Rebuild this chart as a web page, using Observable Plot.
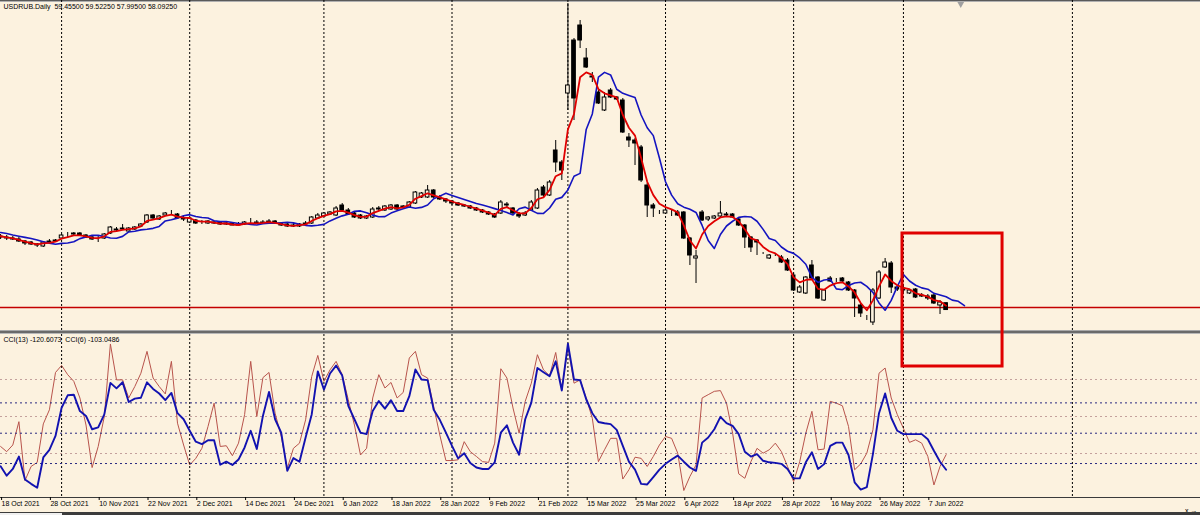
<!DOCTYPE html>
<html><head><meta charset="utf-8">
<script src="https://cdn.jsdelivr.net/npm/d3@7"></script>
<script src="https://cdn.jsdelivr.net/npm/@observablehq/plot@0.6"></script>
<style>
html,body{margin:0;padding:0;background:#fcf2df;}
#chart{position:relative;width:1200px;height:515px;overflow:hidden;background:#fcf2df;}
#chart .layer{position:absolute;left:0;}
#chart .sep{position:absolute;left:0;width:1200px;}
</style></head><body><div id="chart"></div>
<script>
const symbol = "USDRUB";
const period = "Daily";
const firstBar = -3;
const opens = [73.8,73.6,73.2,
72.8,72.6,72.4,72.2,71.8,71.6,71.2,70.8,71.8,71.8,
72.4,73.0,73.2,73.4,73.0,72.6,72.4,72.4,73.4,74.2,
74.2,73.8,74.2,74.8,75.6,77.0,76.2,77.0,77.4,77.2,
76.2,75.6,76.0,75.6,75.4,75.6,75.6,75.2,75.4,75.2,
75.2,75.6,75.6,75.4,75.6,75.8,75.4,75.2,75.0,74.8,
75.2,75.4,76.4,76.8,77.2,77.0,79.0,78.0,77.4,77.0,
76.4,76.6,78.2,78.0,78.2,79.0,78.6,78.6,79.4,80.6,
80.6,82.0,80.6,80.2,79.8,79.4,79.0,78.8,78.4,78.0,
77.6,77.2,77.4,79.2,78.4,77.2,77.0,78.0,78.4,82.6,
81.0,90.0,87.6,101.4,112.0,115.0,108.4,104.8,101.6,98.0,
102.0,100.6,100.0,92.6,92.0,90.6,83.0,79.0,77.6,77.4,
77.8,77.6,77.6,72.4,68.4,77.6,76.2,76.4,76.8,77.2,
77.2,76.2,75.0,72.6,72.0,69.4,68.4,69.0,68.6,68.0,
65.0,61.6,61.4,67.0,64.6,60.0,64.4,64.0,64.4,63.6,
62.0,59.0,56.6,55.6,60.4,66.6,67.4,62.6,62.4,61.4,
62.2,61.0,60.8,61.0,59.0,59.455];
const highs = [74.2,73.8,73.4,
73.2,73.0,72.8,72.6,72.0,71.8,71.4,71.8,72.2,72.2,
73.2,73.6,73.6,73.6,73.2,72.8,72.8,73.4,74.8,74.6,
75.2,74.6,74.8,75.4,77.2,77.2,77.0,77.6,78.0,77.4,
76.8,76.6,76.2,76.0,76.0,75.8,75.8,75.6,75.6,75.6,
75.8,76.4,76.0,76.0,76.2,76.0,75.6,75.6,75.4,75.4,
75.8,76.8,77.4,77.6,77.8,78.8,79.4,78.4,77.6,77.2,
77.0,78.6,78.8,79.0,79.2,79.2,79.0,79.8,81.8,81.6,
83.0,82.2,81.0,80.4,80.0,79.6,79.2,79.0,78.6,78.2,
77.8,77.4,80.0,79.6,78.6,77.6,77.8,80.0,82.4,83.0,
84.0,92.0,88.0,119.4,112.4,116.0,110.4,105.6,102.0,101.6,
102.4,100.8,100.4,93.4,92.4,91.0,83.4,79.4,78.0,78.2,
78.2,78.0,77.8,72.6,70.0,78.0,76.8,77.0,79.8,77.6,
77.4,76.4,75.2,72.8,72.2,69.6,69.2,69.4,69.0,68.4,
65.4,63.0,64.8,68.0,64.8,62.2,64.8,64.4,64.6,63.8,
62.2,59.4,57.0,62.4,66.0,68.4,67.8,63.0,62.8,62.2,
62.4,61.4,61.2,61.2,60.0,59.5225];
const lows = [73.4,73.0,72.6,
72.2,72.0,72.0,71.6,71.0,71.0,70.6,70.6,71.4,71.6,
72.2,72.6,73.0,72.8,72.4,72.0,71.6,72.2,73.2,73.8,
74.0,73.6,74.0,74.6,75.4,76.2,76.0,76.8,77.2,76.2,
75.8,75.4,75.2,75.2,75.2,75.2,75.0,75.0,75.0,74.8,
75.0,75.2,75.2,75.2,75.4,75.2,74.8,74.6,74.6,74.6,
75.0,75.2,76.2,76.6,77.0,76.8,77.8,77.0,76.4,76.2,
76.2,76.4,77.8,77.8,78.0,78.0,78.4,78.4,79.2,80.4,
80.4,80.4,80.0,79.4,79.0,78.8,78.6,78.2,77.8,77.4,
77.0,76.4,77.2,78.4,77.2,76.4,76.8,77.8,78.2,80.4,
80.8,85.6,84.0,98.0,96.0,110.4,106.4,103.6,99.2,97.8,
100.4,100.0,93.4,90.6,87.0,83.6,76.6,76.6,77.2,77.2,
76.8,76.8,72.2,67.0,63.4,75.8,75.8,76.2,76.6,76.8,
76.4,74.8,70.4,69.6,69.0,69.2,68.2,68.8,67.4,65.8,
61.8,61.4,61.2,64.2,60.2,59.8,63.6,63.6,63.6,61.8,
56.6,56.6,56.0,55.0,60.2,66.4,61.4,61.8,61.6,61.2,
60.4,60.6,60.0,59.2,57.2,57.995];
const closes = [73.6,73.2,72.8,
72.6,72.4,72.2,71.8,71.4,71.2,71.0,71.6,71.6,72.0,
73.0,73.0,73.4,73.0,72.6,72.2,72.4,73.2,74.6,74.0,
74.4,74.4,74.6,75.2,77.0,76.4,76.8,77.4,77.4,76.4,
76.4,76.4,75.4,75.6,75.8,75.4,75.2,75.4,75.0,75.0,
75.6,75.6,75.4,75.6,75.8,75.4,75.0,74.8,74.8,75.2,
75.4,76.6,77.0,77.4,77.6,78.4,78.0,77.2,76.6,76.4,
76.8,78.2,78.4,78.8,79.0,78.2,78.8,79.6,81.6,81.4,
82.0,80.6,80.2,79.8,79.4,79.0,78.8,78.4,78.0,77.6,
77.2,76.6,79.6,79.0,77.4,76.8,77.4,79.6,82.0,81.0,
83.6,87.6,86.0,103.0,100.4,112.0,106.6,104.6,99.4,100.6,
100.6,100.2,93.6,92.0,91.4,84.0,79.0,78.4,77.6,78.0,
77.8,77.0,72.4,69.0,68.8,76.0,76.6,76.8,77.4,77.0,
76.6,75.0,72.6,70.6,71.6,69.4,69.0,69.0,67.6,66.0,
62.0,62.6,64.6,64.4,60.4,62.0,63.8,64.0,63.8,62.0,
60.4,57.4,56.6,62.0,65.6,67.6,62.6,62.2,62.0,62.0,
60.6,60.8,60.4,59.4,59.6,58.0925];

// CCI(13) and CCI(6), bars 0..155
const cci13 = [-109,-140,-118,-77,-153,-167,-180,-80,-55,-9,
84,125,127,73,57,13,19,62,166,148,
168,103,114,117,168,146,131,109,133,66,
46,8,-28,-36,-23,-23,-104,-94,-105,-87,
-47,8,-52,57,136,46,2,-124,-82,-94,
-14,62,204,144,197,223,190,90,46,2,
-3,73,106,81,109,73,73,122,210,177,
175,77,44,2,-42,-83,-66,-98,-113,-118,
-118,-96,2,26,-31,-71,46,101,215,201,
188,237,141,295,177,175,112,66,37,33,
30,11,-42,-94,-120,-167,-169,-145,-120,-101,
-87,-74,-94,-113,-124,-31,-14,13,54,33,
24,-3,-61,-77,-69,-91,-96,-98,-101,-118,
-149,-149,-96,-63,-118,-102,-42,-31,-31,-72,
-162,-186,-178,-69,66,131,51,8,-3,-3,
-3,-3,-20,-58,-94,-120.6073];
const cci6 = [-81,-95,-77,-14,-173,-135,-124,-20,18,119,
138,113,95,50,-23,-138,-81,0,196,99,
99,50,81,117,176,104,81,61,149,-18,
-77,-131,-113,-86,-27,36,-81,-79,-106,-72,
5,149,0,105,119,9,-54,-140,-86,-72,
-9,108,165,95,126,149,113,45,-23,-104,
-86,50,113,77,92,50,65,158,176,113,
104,27,-50,-119,-119,-117,-68,-95,-108,-122,
-124,-72,129,104,23,-45,41,90,167,126,
110,173,72,189,90,99,50,-5,-122,-90,
-59,-59,-169,-144,-110,-113,-135,-108,-77,-54,
-59,-99,-200,-162,-131,50,59,68,70,36,
-45,-155,-167,-122,-86,-99,-90,-72,-95,-135,
-176,-122,-45,14,-90,-88,41,36,29,-27,
-144,-128,-99,-36,117,131,50,5,-32,-70,
-63,-72,-108,-185,-135,-103.0486];
const cciLevels = [100, 0, -100];

const maPeriod = 3;      // EMA on close (red)
const maShift = 3;       // same EMA shifted forward (blue)
const levelPrice = [58.6];
const monthStartBars = [10, 31, 53, 74, 93, 109, 130, 148, 175.7];
const tickBars = [0,8,16,24,32,40,48,56,64,72,80,88,96,104,112,120,128,136,144,152];
const tickLabels = ["18 Oct 2021","28 Oct 2021","10 Nov 2021","22 Nov 2021","2 Dec 2021","14 Dec 2021","24 Dec 2021","6 Jan 2022","18 Jan 2022","28 Jan 2022","9 Feb 2022","21 Feb 2022","15 Mar 2022","25 Mar 2022","6 Apr 2022","18 Apr 2022","28 Apr 2022","16 May 2022","26 May 2022","7 Jun 2022"];
const boxBars = [147.85, 164.25];
const boxPrices = [73.4, 46.8];
const shiftMarkerBar = [157.4];

const BG = "#fcf2df";
const FONT = "'Liberation Sans', Arial, sans-serif";
const FS = 7;
const xScale = {domain: [0, 196.7], range: [0.1, 1200], axis: null};

const bars = closes.map((c, k) => ({i: firstBar + k, open: opens[k], high: highs[k], low: lows[k], close: c}));
let e;
const ema = closes.map((c, k) => (e = k === 0 ? c : e + (c - e) * 2 / (maPeriod + 1)));
const maRed = ema.map((v, k) => ({x: firstBar + k, v}));
const maBlue = ema.map((v, k) => ({x: firstBar + k + maShift, v}));
const c13 = cci13.map((v, k) => ({x: k, v}));
const c6 = cci6.map((v, k) => ({x: k, v}));
const last = bars[bars.length - 1];
const header = `${symbol}.${period}  ${[last.open, last.high, last.low, last.close].map(v => v.toFixed(5)).join(" ")}`;
const cciLabel = `CCI(13) ${cci13[cci13.length-1].toFixed(4)}  CCI(6) ${cci6[cci6.length-1].toFixed(4)}`;
const labelOf = new Map(tickBars.map((b, k) => [b, tickLabels[k]]));

const chart = document.getElementById("chart");
function place(node, top, z) {
  const d = document.createElement("div");
  d.className = "layer"; d.style.top = top + "px"; d.style.zIndex = z;
  d.appendChild(node); chart.appendChild(d);
}
function sep(top, h, color) {
  const d = document.createElement("div");
  d.className = "sep"; d.style.top = top + "px"; d.style.height = h + "px"; d.style.background = color;
  d.style.zIndex = 5; chart.appendChild(d);
}

// CCI(6) layer
const p6 = Plot.plot({
  width: 1200, height: 164, margin: 0,
  x: xScale, y: {domain: [-221.6, 221.6], axis: null},
  style: {background: "transparent", overflow: "visible"},
  marks: [
    Plot.ruleY(cciLevels, {stroke: "#c4a09c", strokeDasharray: "2,3", strokeWidth: 1}),
    Plot.line(c6, {x: "x", y: "v", stroke: "#b8544c", strokeWidth: 1})
  ]
});
place(p6, 334, 1);

// CCI(13) layer with axis
const p13 = Plot.plot({
  width: 1200, height: 181, marginTop: 0, marginBottom: 18, marginLeft: 0, marginRight: 0,
  x: xScale, y: {domain: [-212.1, 325.6], axis: null},
  style: {background: "transparent", overflow: "visible", fontFamily: FONT, fontSize: FS + "px", color: "#000"},
  marks: [
    Plot.ruleX(monthStartBars, {stroke: "#000", strokeDasharray: "2,2", strokeWidth: 1}),
    Plot.ruleY(cciLevels, {stroke: "#2a2a80", strokeDasharray: "2,3", strokeWidth: 1}),
    Plot.line(c13, {x: "x", y: "v", stroke: "#1212b0", strokeWidth: 1.9}),
    Plot.ruleY([-212.1], {stroke: "#3a3a3a", strokeWidth: 1}),
    Plot.axisX(tickBars, {anchor: "bottom", tickSize: 3, tickPadding: 1, textAnchor: "start", dx: 1,
      tickFormat: d => labelOf.get(d), fontSize: FS, fill: "#000", stroke: "#000"}),
    Plot.text([cciLabel], {frameAnchor: "top-left", dx: 3, dy: 3, lineAnchor: "top", fontSize: FS, fill: "#000"})
  ]
});
place(p13, 334, 2);

// main price panel
const pm = Plot.plot({
  width: 1200, height: 330, margin: 0,
  x: xScale, y: {domain: [54, 120], axis: null},
  style: {background: "transparent", overflow: "visible", fontFamily: FONT, fontSize: FS + "px", color: "#000"},
  marks: [
    Plot.ruleX(monthStartBars, {stroke: "#000", strokeDasharray: "2,2", strokeWidth: 1}),
    Plot.ruleY(levelPrice, {stroke: "#c40000", strokeWidth: 1.5}),
    Plot.ruleX(bars, {x: "i", y1: "low", y2: "high", stroke: "#000", strokeWidth: 1}),
    Plot.rect(bars, {filter: d => d.close >= d.open, x1: d => d.i - 0.3, x2: d => d.i + 0.3, y1: "open", y2: "close", fill: BG, stroke: "#000", strokeWidth: 1, inset: 0}),
    Plot.rect(bars, {filter: d => d.close < d.open, x1: d => d.i - 0.3, x2: d => d.i + 0.3, y1: "open", y2: "close", fill: "#000", stroke: "#000", strokeWidth: 1, inset: 0}),
    Plot.line(maBlue, {x: "x", y: "v", stroke: "#1414c0", strokeWidth: 1.6}),
    Plot.line(maRed, {x: "x", y: "v", stroke: "#e00000", strokeWidth: 1.8}),
    Plot.rect([0], {x1: () => boxBars[0], x2: () => boxBars[1], y1: () => boxPrices[0], y2: () => boxPrices[1], fill: "none", stroke: "#e00000", strokeWidth: 3, inset: 0, clip: false}),
    Plot.dot(shiftMarkerBar, {x: d => d, y: () => 119.3, symbol: "triangle", r: 2.5, rotate: 180, fill: "#a0a0a0", stroke: "none"}),
    Plot.text([header], {frameAnchor: "top-left", dx: 3, dy: 4, lineAnchor: "top", fontSize: FS, fill: "#000"})
  ]
});
place(pm, 0, 8);

sep(0, 1, "#5a5a5a");
sep(1, 1, "#b0b0b0");
sep(330, 1, "#a8a8a8");
sep(331, 2, "#6a6a6a");
sep(333, 1, "#b8b8b8");
sep(512, 3, "#3c3c3c");
const tab = document.createElement("div");
tab.style.cssText = "position:absolute;left:0;top:513px;width:62px;height:2px;background:#f0f0f0;z-index:6;";
chart.appendChild(tab);
</script></body></html>
